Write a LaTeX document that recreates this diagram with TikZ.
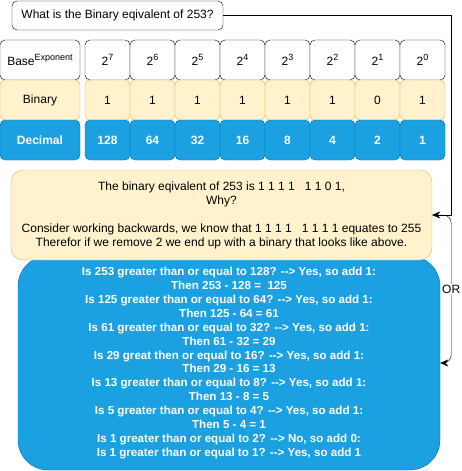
\documentclass[tikz,border=0pt]{standalone}
\usepackage{fontspec}
\setmainfont{Liberation Sans}
\usetikzlibrary{arrows.meta}

\definecolor{binfill}{HTML}{FFF2CC}
\definecolor{binline}{HTML}{D6B656}
\definecolor{decfill}{HTML}{1BA1E2}
\definecolor{decline}{HTML}{006EAF}

\newcommand{\sups}[1]{\raisebox{5pt}{\fontsize{9}{9}\selectfont #1}}

\tikzset{
    cell/.style={draw, rectangle, rounded corners=5pt, minimum width=45pt, minimum height=40pt, inner sep=0pt},
    expcell/.style={cell, fill=white},
    bincell/.style={cell, fill=binfill, draw=binline},
    deccell/.style={cell, fill=decfill, draw=decline, text=white, font=\fontsize{12}{14}\selectfont\bfseries},
    arr/.style={-{Stealth[length=8pt, width=7pt]}},
}

\begin{document}
\fontsize{12}{14}\selectfont
\begin{tikzpicture}[x=1pt, y=-1pt]
        \useasboundingbox (0,0) rectangle (461,471);
        % question
        \node[draw, rectangle, rounded corners=5pt, minimum width=211pt, minimum height=29pt] (question) at (117.5,15.5) {What is the Binary eqivalent of 253?};
        % table
        \node[expcell, minimum width=80pt] (exphead) at (40,60) {Base\sups{Exponent}};
        \node[bincell, minimum width=80pt] (binhead) at (40,100) {Binary};
        \node[deccell, minimum width=80pt] (dechead) at (40,140) {Decimal};
        \foreach \e/\b/\d [count=\i from 0] in {7/1/128, 6/1/64, 5/1/32, 4/1/16, 3/1/8, 2/1/4, 1/0/2, 0/1/1} {
            \node[expcell] (exp\e) at ({107.5+45*\i},60) {2\sups{\e}};
            \node[bincell] (bin\e) at ({107.5+45*\i},100) {\b};
            \node[deccell] (dec\e) at ({107.5+45*\i},140) {\d};
        }
        % explanation boxes
        \node[draw=decline, fill=decfill, rectangle, rounded corners=30pt, minimum width=422pt, minimum height=214pt, text=white, font=\fontsize{11.6}{13.9}\selectfont\bfseries, align=center] (steps) at (229,363) {Is 253 greater than or equal to 128? -{}-> Yes, so add 1:\\
            Then 253 - 128 =\ \ 125\\
            Is 125 greater than or equal to 64? -{}-> Yes, so add 1:\\
            Then 125 - 64 = 61\\
            Is 61 greater than or equal to 32? -{}-> Yes, so add 1:\\
            Then 61 - 32 = 29\\
            Is 29 great then or equal to 16? -{}-> Yes, so add 1:\\
            Then 29 - 16 = 13\\
            Is 13 greater than or equal to 8? -{}-> Yes, so add 1:\\
            Then 13 - 8 = 5\\
            Is 5 greater than or equal to 4? -{}-> Yes, so add 1:\\
            Then 5 - 4 = 1\\
            Is 1 greater than or equal to 2? -{}-> No, so add 0:\\
            Is 1 greater than or equal to 1? -{}-> Yes, so add 1};
        \node[draw=binline, fill=binfill, rectangle, rounded corners=12pt, minimum width=421pt, minimum height=90pt, align=center] (answer) at (221.5,215) {The binary eqivalent of 253 is 1 1 1 1\ \ \ 1 1 0 1,\\
            Why?\\[14pt]
            Consider working backwards, we know that 1 1 1 1\ \ \ 1 1 1 1 equates to 255\\
            Therefor if we remove 2 we end up with a binary that looks like above.};
        % arrows
        \draw[arr] (question.east) -- ++(228,0) |- (answer.east);
        \draw[arr, rounded corners=8pt] (answer.east) -- ++(19,0) |- node[pos=0.25, fill=white, inner sep=1pt]{OR} (steps.east);
    \end{tikzpicture}
\end{document}
